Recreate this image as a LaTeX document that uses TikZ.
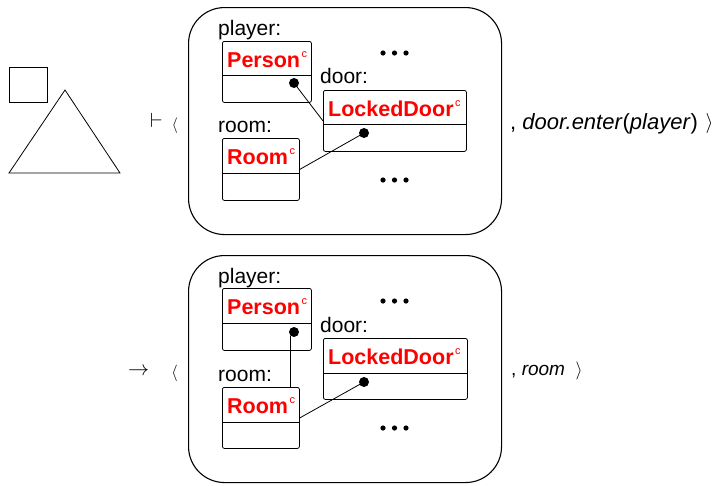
\documentclass[tikz,border=0pt]{standalone}
\usepackage{graphicx}
\usepackage{fontspec}
\setmainfont{Liberation Sans}
\definecolor{clsred}{RGB}{255,0,0}
% small class marker after a class name
\newcommand\clsmark{\hspace{1.5pt}\raisebox{9.5pt}{\fontsize{11}{12}\selectfont\mdseries c}}
% math symbol scaled up from the normal size
\newcommand\bigsym[2]{\scalebox{#1}{$#2$}}
\tikzset{
  bigbox/.style={draw, line width=1.1pt, rounded corners=36pt, inner sep=0pt, anchor=north west},
  classbox/.style={draw, line width=0.8pt, rounded corners=2pt, inner sep=0pt, anchor=north west},
  varlabel/.style={anchor=base west, inner sep=0pt, font=\fontsize{21}{24}\selectfont},
  clsname/.style={anchor=base west, inner sep=0pt, text=clsred, font=\fontsize{21.5}{24}\selectfont\bfseries},
  link/.style={line width=0.8pt},
  attr/.style={circle, fill, inner sep=0pt, minimum size=10pt},
  sym/.style={inner sep=0pt, anchor=center},
  shapeline/.style={line width=0.8pt},
}
\begin{document}
\begin{tikzpicture}[x=1pt, y=-1pt]
\useasboundingbox (0,0) rectangle (717,485);

% small scene: square and triangle
\draw[shapeline] (9,67) rectangle (47,102);
\draw[shapeline] (65,90) -- (9,173) -- (120,173) -- cycle;

% ---------- first configuration ----------
\node[sym] (vd) at (156.5,120.5) {\bigsym{2.05}{\vdash}};
\node[sym] (la1) at (175,126) {\bigsym{1.55}{\langle}};
\node[bigbox, minimum width=313pt, minimum height=227pt] (st1) at (188,7) {};

\node[varlabel] (lp1) at (218,35) {player:};
\node[classbox, minimum width=89pt, minimum height=61pt] (p1) at (222,41) {};
\draw[link] ([yshift=-34pt]p1.north west) -- ([yshift=-34pt]p1.north east);
\node[clsname] (np1) at (227,67) {Person\clsmark};
\node[attr] (dp1) at (294,83) {};

\node[varlabel] (ld1l) at (320,83) {door:};
\node[classbox, minimum width=143pt, minimum height=61pt] (d1) at (323,90) {};
\draw[link] ([yshift=-34pt]d1.north west) -- ([yshift=-34pt]d1.north east);
\node[clsname] (nd1) at (328,116) {LockedDoor\clsmark};
\node[attr] (dd1) at (364,133) {};

\node[varlabel] (lr1) at (218,132) {room:};
\node[classbox, minimum width=77pt, minimum height=62pt] (r1) at (222,138) {};
\draw[link] ([yshift=-35pt]r1.north west) -- ([yshift=-35pt]r1.north east);
\node[clsname] (nr1) at (227,164) {Room\clsmark};

\draw[link] (dp1.center) -- (d1.west);
\draw[link] (dd1.center) -- (r1.east);

\coordinate (e1a) at (394.5,53);
\coordinate (e1b) at (394.5,180);
\foreach \c in {e1a,e1b}
  \foreach \d in {-11.5,0,11.5}
    \fill ([xshift=\d pt]\c) circle (2.6pt);

\node[anchor=base west, inner sep=0pt, font=\fontsize{22}{25}\selectfont] (act1) at (510,129.5)
  {, \textit{door.enter}(\textit{player})};
\node[sym] (ra1) at (709.5,123) {\bigsym{2.0}{\rangle}};

% ---------- second configuration ----------
\node[sym] (ar) at (138.5,372) {\bigsym{2.1}{\rightarrow}};
\node[sym] (la2) at (174.5,373) {\bigsym{1.65}{\langle}};
\node[bigbox, minimum width=313pt, minimum height=227pt] (st2) at (188,255) {};

\node[varlabel] (lp2) at (218,283) {player:};
\node[classbox, minimum width=89pt, minimum height=62pt] (p2) at (222,288) {};
\draw[link] ([yshift=-35pt]p2.north west) -- ([yshift=-35pt]p2.north east);
\node[clsname] (np2) at (227,314) {Person\clsmark};
\node[attr] (dp2) at (294,332) {};

\node[varlabel] (ld2l) at (320,332) {door:};
\node[classbox, minimum width=144pt, minimum height=61pt] (d2) at (323,338) {};
\draw[link] ([yshift=-35pt]d2.north west) -- ([yshift=-35pt]d2.north east);
\node[clsname] (nd2) at (328,364) {LockedDoor\clsmark};
\node[attr] (dd2) at (364,382) {};

\node[varlabel] (lr2) at (218,381) {room:};
\node[classbox, minimum width=77pt, minimum height=61pt] (r2) at (222,387) {};
\draw[link] ([yshift=-35pt]r2.north west) -- ([yshift=-35pt]r2.north east);
\node[clsname] (nr2) at (227,413) {Room\clsmark};

\draw[link] (dp2.south west) -- (dp2.south west |- r2.north);
\draw[link] (dd2.center) -- (r2.east);

\coordinate (e2a) at (394.5,301);
\coordinate (e2b) at (394.5,428);
\foreach \c in {e2a,e2b}
  \foreach \d in {-11.5,0,11.5}
    \fill ([xshift=\d pt]\c) circle (2.6pt);

\node[anchor=base west, inner sep=0pt, font=\fontsize{19}{22}\selectfont] (act2) at (511,375)
  {, \textit{room}};
\node[sym] (ra2) at (579,371) {\bigsym{1.8}{\rangle}};
\end{tikzpicture}
\end{document}
